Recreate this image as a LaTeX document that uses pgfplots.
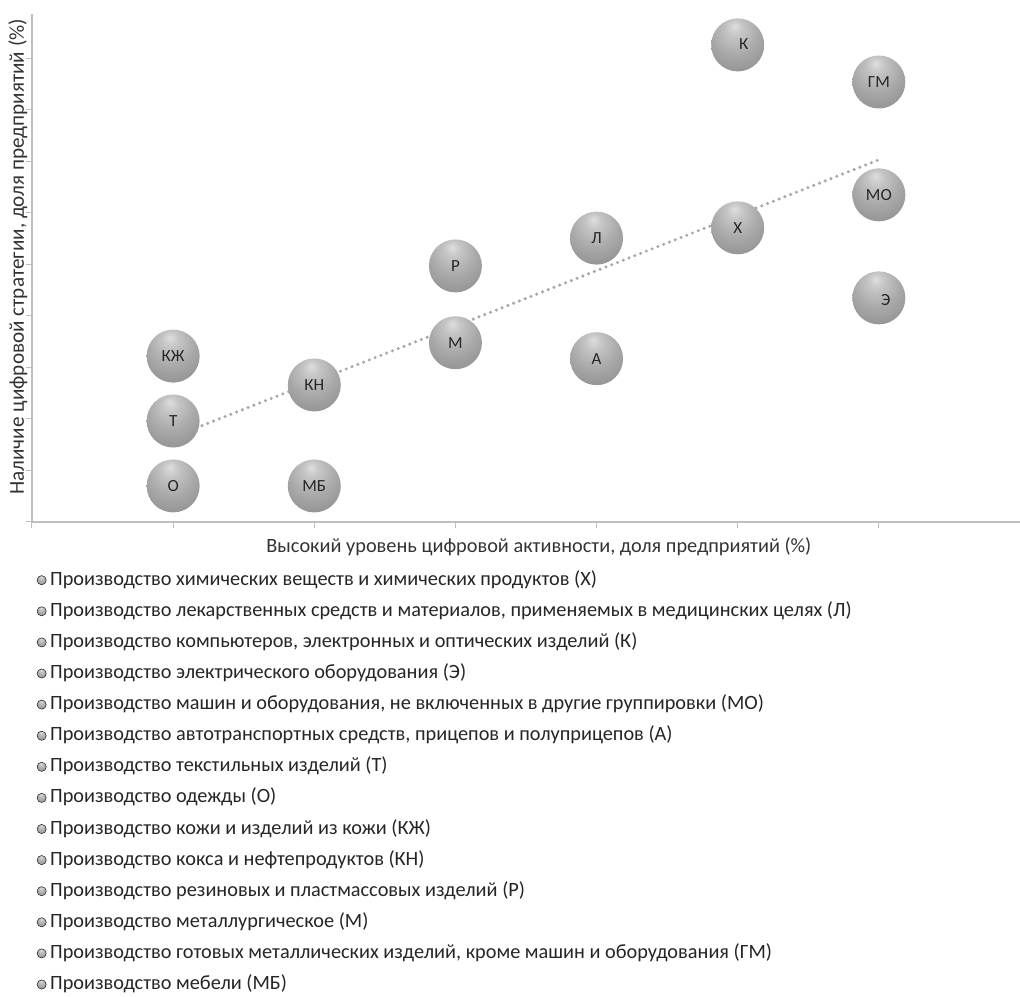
\documentclass[border=0pt]{standalone}
\usepackage{fontspec}
\setmainfont{Carlito}
\usepackage{pgfplots}
\pgfplotsset{compat=1.18}

\definecolor{axgray}{HTML}{BFBFBF}
\definecolor{trend}{HTML}{A8A8A8}

% grey sphere, highlight near the top
\pgfdeclareradialshading{sphere}{\pgfpoint{-3bp}{18bp}}{%
  rgb(0bp)=(.87,.87,.87); rgb(8bp)=(.77,.77,.77); rgb(22bp)=(.66,.66,.66);
  rgb(38bp)=(.56,.56,.56); rgb(50bp)=(.47,.47,.47); rgb(68bp)=(.41,.41,.41)}
\pgfdeclareplotmark{sphere}{%
  \pgfpathcircle{\pgfpointorigin}{\pgfplotmarksize}%
  \pgfshadepath{sphere}{0}\pgfusepath{}}

\pgfplotsset{
  bub/.style={only marks, mark=sphere, mark size=26.5pt},
}

\begin{document}
\begin{tikzpicture}
\useasboundingbox (0pt,0pt) rectangle (1020pt,996pt);
\begin{axis}[
  at={(32pt,474pt)}, anchor=south west,
  scale only axis,
  width=988pt, height=508pt,
  xmin=0, xmax=7, ymin=0, ymax=9.86,
  axis lines=left,
  axis line style={-, draw=axgray, line width=1.2pt},
  xtick={0,...,7}, ytick={0,...,9},
  xticklabels={}, yticklabels={},
  tick align=outside,
  major tick length=6pt,
  tick style={draw=axgray, line width=1pt},
  clip=false,
  xlabel={Высокий уровень цифровой активности, доля предприятий (\%)},
  ylabel={Наличие цифровой стратегии, доля предприятий (\%)},
  xlabel style={at={(axis description cs:0.513,-0.049)}, anchor=center, text=black!80,
    font=\fontsize{20.3}{24}\selectfont},
  ylabel style={at={(axis description cs:-0.0142,0.522)}, anchor=center, text=black!80,
    font=\fontsize{21.2}{24}\selectfont},
  nodes near coords style={anchor=center, font=\fontsize{17}{19}\selectfont, text=black!85},
  legend style={
    at={(axis description cs:0.003,-0.0945)}, anchor=north west,
    draw=none, inner sep=0pt,
    font=\fontsize{20.3}{24}\selectfont,
    row sep=11.1pt,
    nodes={inner sep=1pt, text height=14pt, text depth=4pt, text=black!85},
  },
  legend cell align=left,
  legend image code/.code={\path[draw=none, fill=none] (0pt,0pt) rectangle (14pt,0.1pt);
    \shade[shading=sphere] (6.5pt,0pt) circle (4.6pt);},
]
\addplot[bub, nodes near coords={Х}] coordinates {(5,5.71)};
\addlegendentry{Производство химических веществ и химических продуктов (Х)}
\addplot[bub, nodes near coords={Л}] coordinates {(4,5.51)};
\addlegendentry{Производство лекарственных средств и материалов, применяемых в медицинских целях (Л)}
\addplot[bub, nodes near coords={К}, nodes near coords style={xshift=6pt, yshift=1pt}] coordinates {(5,9.26)};
\addlegendentry{Производство компьютеров, электронных и оптических изделий (К)}
\addplot[bub, nodes near coords={Э}, nodes near coords style={xshift=7pt, yshift=-2pt}] coordinates {(6,4.35)};
\addlegendentry{Производство электрического оборудования (Э)}
\addplot[bub, nodes near coords={МО}] coordinates {(6,6.35)};
\addlegendentry{Производство машин и оборудования, не включенных в другие группировки (МО)}
\addplot[bub, nodes near coords={А}] coordinates {(4,3.17)};
\addlegendentry{Производство автотранспортных средств, прицепов и полуприцепов (А)}
\addplot[bub, nodes near coords={Т}] coordinates {(1,1.96)};
\addlegendentry{Производство текстильных изделий (Т)}
\addplot[bub, nodes near coords={О}] coordinates {(1,0.70)};
\addlegendentry{Производство одежды (О)}
\addplot[bub, nodes near coords={КЖ}] coordinates {(1,3.22)};
\addlegendentry{Производство кожи и изделий из кожи (КЖ)}
\addplot[bub, nodes near coords={КН}] coordinates {(2,2.66)};
\addlegendentry{Производство кокса и нефтепродуктов (КН)}
\addplot[bub, nodes near coords={Р}] coordinates {(3,4.97)};
\addlegendentry{Производство резиновых и пластмассовых изделий (Р)}
\addplot[bub, nodes near coords={М}] coordinates {(3,3.48)};
\addlegendentry{Производство металлургическое (М)}
\addplot[bub, nodes near coords={ГМ}] coordinates {(6,8.54)};
\addlegendentry{Производство готовых металлических изделий, кроме машин и оборудования (ГМ)}
\addplot[bub, nodes near coords={МБ}] coordinates {(2,0.70)};
\addlegendentry{Производство мебели (МБ)}
% linear trend
\addplot[forget plot, no marks, sharp plot, draw=trend, line width=3.4pt, line cap=round,
  dash pattern=on 0pt off 6.2pt] coordinates {(1,1.65) (6,7.03)};
\end{axis}
\end{tikzpicture}
\end{document}
